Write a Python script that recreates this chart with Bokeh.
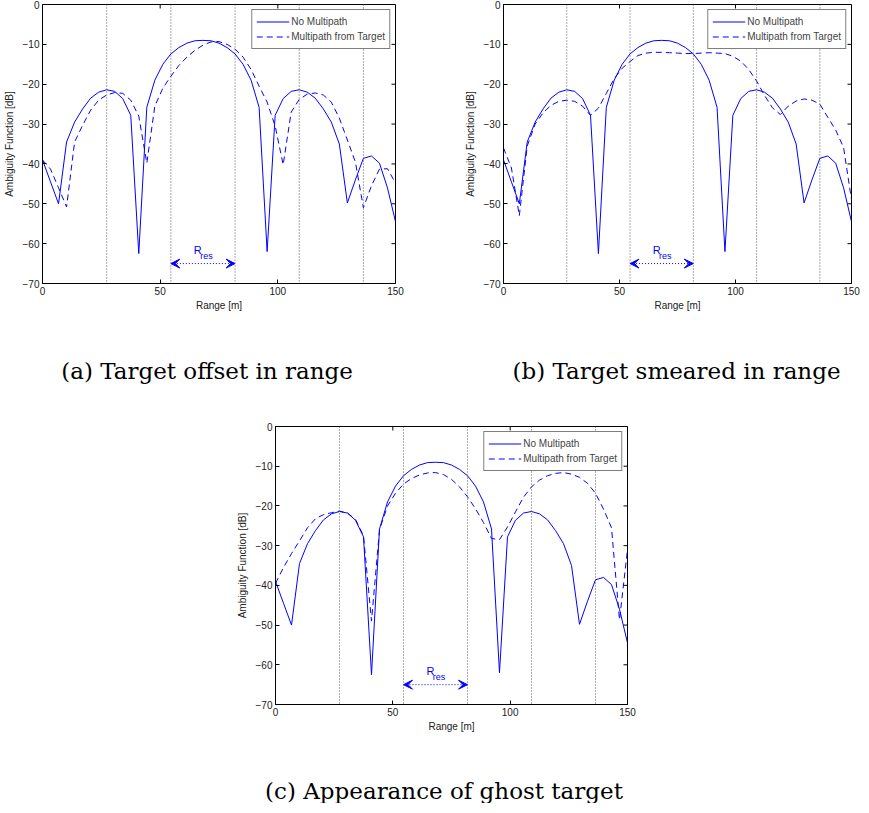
from bokeh.plotting import figure
from bokeh.models import (Range1d, FixedTicker, Span, Arrow, VeeHead,
                          Label, Legend, LegendItem, Spacer)
from bokeh.layouts import column, row
from bokeh.embed import file_html
from bokeh.resources import INLINE
from bokeh.core.properties import value

# ---------------- data ----------------
RANGE_M = [0.00, 3.41, 6.82, 10.23, 13.64, 17.05, 20.45, 23.86, 27.27, 30.68,
           34.09, 37.50, 40.91, 44.32, 47.73, 51.14, 54.55, 57.95, 61.36, 64.77,
           68.18, 71.59, 75.00, 78.41, 81.82, 85.23, 88.64, 92.05, 95.45, 98.86,
           102.27, 105.68, 109.09, 112.50, 115.91, 119.32, 122.73, 126.14, 129.55, 132.95,
           136.36, 139.77, 143.18, 146.59, 150.00]

NO_MULTIPATH = [-39, -44.5, -50, -34.5, -29.5, -26.2, -23.5, -22, -21.4, -21.8,
                -23.6, -27.8, -62.5, -25.8, -19, -15, -12.4, -10.8, -9.7, -9.1,
                -9, -9.1, -9.7, -10.8, -12.4, -15, -19, -25.8, -62, -27.8,
                -23.6, -21.8, -21.4, -22, -23.5, -26.2, -29.5, -35, -49.8, -44,
                -38.6, -38, -39.8, -46, -54.5]

MP_OFFSET = [-39, -41.3, -46, -50.8, -34.5, -30.3, -26.5, -24, -22.7, -22.1,
             -22.3, -24, -28, -39.8, -25.5, -21, -18, -15.3, -13.2, -11.5,
             -10.2, -9.4, -9.3, -10, -11.2, -13.2, -16.3, -20.5, -24.5, -30.5,
             -40.2, -27, -23.8, -22.5, -22.2, -22.7, -24.5, -28.5, -34, -39.5,
             -51, -45.5, -41.3, -41.2, -44.8]

MP_SMEAR = [-36, -41, -53, -35.5, -30, -27.2, -25.3, -24.3, -24, -24.3,
            -25.5, -27.8, -26, -22.3, -18.6, -16, -14.3, -12.8, -12.2, -12,
            -12, -12.1, -12.2, -12.3, -12.3, -12.2, -12.1, -12.2, -12.3, -13,
            -14.2, -16.3, -19.2, -22.8, -25.9, -27.6, -25.5, -24.2, -23.7, -24,
            -25, -28.3, -31.5, -35.9, -49]

MP_GHOST = [-39.5, -35.5, -32, -28.8, -25.5, -23.2, -22.2, -21.7, -21.3, -21.8,
            -23.4, -27.5, -49, -26, -20, -16.8, -14.5, -13.1, -12.2, -11.7,
            -11.6, -12.1, -13.3, -15.2, -17.7, -20.7, -24.2, -28.2, -28.5, -25.3,
            -21.5, -17.8, -15.2, -13.5, -12.4, -11.8, -11.6, -12, -12.8, -14.3,
            -16.8, -20.8, -25.5, -48.7, -31]

RRES_LINES = [27.27, 54.55, 81.82, 109.09, 136.36]
X_TICKS = [0, 50, 100, 150]
Y_TICKS = [-70, -60, -50, -40, -30, -20, -10, 0]
X_MIN, X_MAX = 0, 150
Y_MIN, Y_MAX = -70, 0
ARROW_Y = -65
RRES_LABEL_POS = (64.3, -61.5)
RRES_SUB_POS = (67.0, -63.1)

SERIES_NAMES = ["No Multipath", "Multipath from Target"]
CAPTIONS = ["(a) Target offset in range", "(b) Target smeared in range",
            "(c) Appearance of ghost target"]

BLUE = "#0000ff"
SANS = "Liberation Sans"
SERIF = "DejaVu Serif"
TICK_PX = 4


def make_panel(mp_values, frame_w, frame_h, bl, br, bt, bb):
    p = figure(frame_width=frame_w, frame_height=frame_h,
               min_border_left=bl, min_border_right=br,
               min_border_top=bt, min_border_bottom=bb,
               x_range=Range1d(X_MIN, X_MAX), y_range=Range1d(Y_MIN, Y_MAX),
               output_backend="svg", toolbar_location=None, tools="")
    p.xgrid.visible = False
    p.ygrid.visible = False
    p.outline_line_color = "black"
    p.outline_line_width = 1

    for ax, ticks, lab in ((p.xaxis[0], X_TICKS, "Range [m]"),
                           (p.yaxis[0], Y_TICKS, "Ambiguity Function [dB]")):
        ax.ticker = FixedTicker(ticks=ticks)
        ax.axis_label = lab
        ax.axis_label_text_font = SANS
        ax.axis_label_text_font_size = "10px"
        ax.axis_label_text_font_style = "normal"
        ax.axis_label_text_color = "#222222"
        ax.major_label_text_font = SANS
        ax.major_label_text_font_size = "10px"
        ax.major_label_text_color = "#222222"
        ax.major_tick_in = TICK_PX
        ax.major_tick_out = 0
        ax.minor_tick_in = 0
        ax.minor_tick_out = 0
        ax.major_label_standoff = 3
        ax.axis_line_color = "black"
        ax.major_tick_line_color = "black"
    p.xaxis[0].axis_label_standoff = 2
    p.yaxis[0].axis_label_standoff = 5

    # inward tick marks on the top and right edges (MATLAB box style)
    dx = (X_MAX - X_MIN) / frame_w * TICK_PX
    dy = (Y_MAX - Y_MIN) / frame_h * TICK_PX
    p.segment(x0=X_TICKS, y0=[Y_MAX] * len(X_TICKS), x1=X_TICKS,
              y1=[Y_MAX - dy] * len(X_TICKS), line_color="black", line_width=1)
    p.segment(x0=[X_MAX] * len(Y_TICKS), y0=Y_TICKS,
              x1=[X_MAX - dx] * len(Y_TICKS), y1=Y_TICKS,
              line_color="black", line_width=1)

    for loc in RRES_LINES:
        p.add_layout(Span(location=loc, dimension="height",
                          line_color="#555555", line_dash="1 2", line_width=1))

    r1 = p.line(RANGE_M, NO_MULTIPATH, line_color=BLUE, line_width=1)
    r2 = p.line(RANGE_M, mp_values, line_color=BLUE, line_width=1,
                line_dash="6 4")

    p.add_layout(Arrow(start=VeeHead(size=9, fill_color=BLUE, line_color=BLUE),
                       end=VeeHead(size=9, fill_color=BLUE, line_color=BLUE),
                       x_start=RRES_LINES[1], y_start=ARROW_Y,
                       x_end=RRES_LINES[2], y_end=ARROW_Y,
                       line_color=BLUE, line_dash="1 2", line_width=1))
    p.add_layout(Label(x=RRES_LABEL_POS[0], y=RRES_LABEL_POS[1], text="R",
                       text_font=SANS, text_font_size="11px", text_color=BLUE,
                       text_baseline="middle", text_align="left"))
    p.add_layout(Label(x=RRES_SUB_POS[0], y=RRES_SUB_POS[1], text="res",
                       text_font=SANS, text_font_size="9px", text_color=BLUE,
                       text_baseline="middle", text_align="left"))

    legend = Legend(items=[LegendItem(label=SERIES_NAMES[0], renderers=[r1]),
                           LegendItem(label=SERIES_NAMES[1], renderers=[r2])],
                    location="top_right", margin=5, padding=4, spacing=0,
                    glyph_width=33, glyph_height=15, label_height=15,
                    label_standoff=2, label_text_font=SANS,
                    label_text_font_size="10px", border_line_color="black",
                    border_line_width=1, background_fill_color="white",
                    background_fill_alpha=1.0)
    p.add_layout(legend)
    return p


def make_caption(width, height, xs, ys, texts):
    # a bare canvas in pixel units holding the sub-figure captions
    c = figure(width=width, height=height, x_range=Range1d(0, width),
               y_range=Range1d(0, height), output_backend="svg",
               toolbar_location=None, tools="", min_border=0,
               x_axis_type=None, y_axis_type=None)
    c.outline_line_color = None
    c.grid.visible = False
    c.text(x=xs, y=ys, text=texts, text_font=value(SERIF),
           text_font_size="23px", text_align="center",
           text_baseline="alphabetic", text_color="black")
    return c


pa = make_panel(MP_OFFSET, 353, 279, 35, 40, 4, 36)
pb = make_panel(MP_SMEAR, 348, 279, 68, 9, 4, 36)
cap_top = make_caption(853, 94, [206.5, 676], [43, 43], CAPTIONS[:2])
pc = make_panel(MP_GHOST, 352, 278, 35, 10, 13, 30)
cap_bot = make_caption(853, 69, [443.5], [13], CAPTIONS[2:])

layout = column(row(pa, pb), row(cap_top),
                row(Spacer(width=233, height=10), pc), row(cap_bot))

open("out.html", "w").write(file_html(layout, INLINE))
